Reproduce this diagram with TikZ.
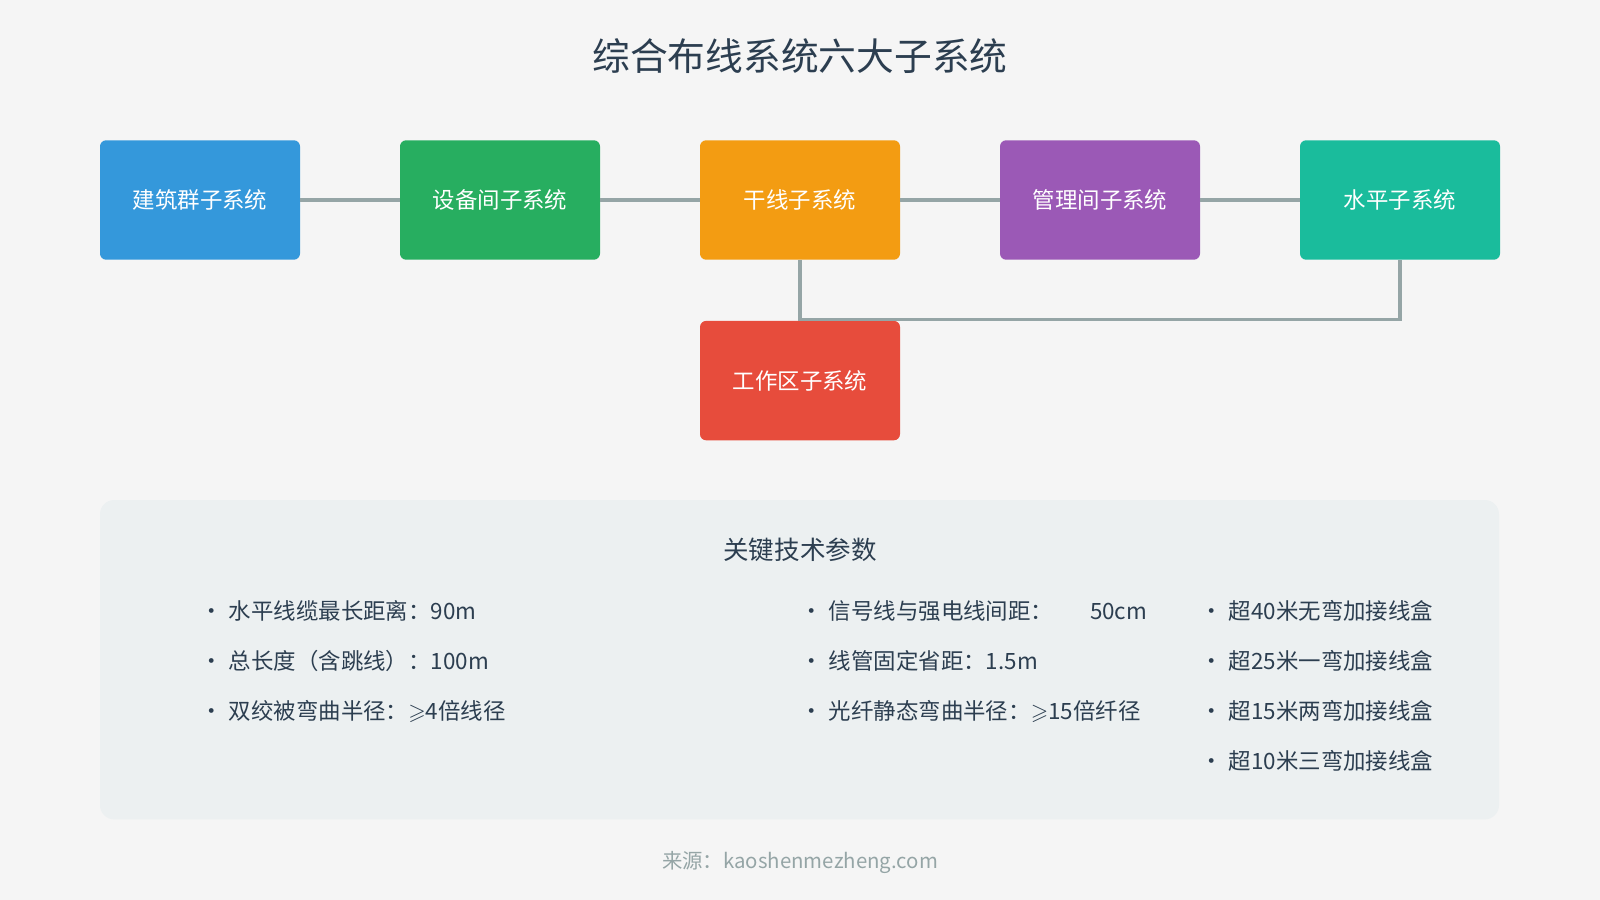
\documentclass[tikz,border=0pt]{standalone}
\usepackage{fontspec}
\usepackage{amssymb}
\setmainfont{Noto Sans CJK SC}
\usetikzlibrary{positioning}
\definecolor{bgcol}{HTML}{F5F5F5}
\definecolor{panelcol}{HTML}{ECF0F1}
\definecolor{darktext}{HTML}{2C3E50}
\definecolor{linkcol}{HTML}{95A5A6}
\definecolor{cBlue}{HTML}{3498DB}
\definecolor{cGreen}{HTML}{27AE60}
\definecolor{cOrange}{HTML}{F39C12}
\definecolor{cPurple}{HTML}{9B59B6}
\definecolor{cTeal}{HTML}{1ABC9C}
\definecolor{cRed}{HTML}{E74C3C}
\tikzset{Sub Box/.style = {rounded corners = 6pt, minimum width = 196pt,
    minimum height = 117pt, text = white, font = \fontsize{22}{26}\selectfont},
  Link Line/.style = {line width = 3pt, linkcol},
  Item/.style = {anchor = west, text = darktext, font = \fontsize{22}{26}\selectfont, inner sep = 0pt}}

\begin{document}
\begin{tikzpicture}[x = 1pt, y = -1pt]
  \fill[bgcol] (0, 0) rectangle (1568, 882);
  \useasboundingbox (0, 0) rectangle (1568, 882);

  \node[text = darktext, font = \fontsize{37}{42}\selectfont] (title) at (784, 55) {综合布线系统六大子系统};

  % subsystem boxes
  \node[Sub Box, fill = cBlue] (bldg) at (196, 196) {建筑群子系统};
  \node[Sub Box, fill = cGreen] (equip) at (490, 196) {设备间子系统};
  \node[Sub Box, fill = cOrange] (trunk) at (784, 196) {干线子系统};
  \node[Sub Box, fill = cPurple] (admin) at (1078, 196) {管理间子系统};
  \node[Sub Box, fill = cTeal] (horiz) at (1372, 196) {水平子系统};
  \node[Sub Box, fill = cRed] (work) at (784, 373) {工作区子系统};

  \begin{scope}[on background layer/.style = {}]
    \draw[Link Line] (bldg) -- (equip);
    \draw[Link Line] (equip) -- (trunk);
    \draw[Link Line] (trunk) -- (admin);
    \draw[Link Line] (admin) -- (horiz);
    \coordinate (J1) at (784, 313);
    \coordinate (J2) at (1372, 313);
    \draw[Link Line] (trunk.south) -- (J1) -- (J2) -- (horiz.south);
  \end{scope}

  % parameter panel
  \fill[panelcol, rounded corners = 14pt] (98, 490) rectangle (1469, 803);
  \node[text = darktext, font = \fontsize{25}{30}\selectfont] (ptitle) at (784, 539) {关键技术参数};

  \node[Item] (a1) at (196, 599) {•\hspace{6pt}水平线缆最长距离：90m};
  \node[Item] (a2) at (196, 648) {•\hspace{6pt}总长度（含跳线）：100m};
  \node[Item] (a3) at (196, 697) {•\hspace{6pt}双绞被弯曲半径：$\geqslant$4倍线径};

  \node[Item] (b1) at (784, 599) {•\hspace{6pt}信号线与强电线间距：\hspace{36pt}50cm};
  \node[Item] (b2) at (784, 648) {•\hspace{6pt}线管固定省距：1.5m};
  \node[Item] (b3) at (784, 697) {•\hspace{6pt}光纤静态弯曲半径：$\geqslant$15倍纤径};

  \node[Item] (c1) at (1176, 599) {•\hspace{6pt}超40米无弯加接线盒};
  \node[Item] (c2) at (1176, 648) {•\hspace{6pt}超25米一弯加接线盒};
  \node[Item] (c3) at (1176, 697) {•\hspace{6pt}超15米两弯加接线盒};
  \node[Item] (c4) at (1176, 746) {•\hspace{6pt}超10米三弯加接线盒};

  \node[text = linkcol, font = \fontsize{20}{24}\selectfont] (src) at (784, 845) {来源：kaoshenmezheng.com};
\end{tikzpicture}
\end{document}
